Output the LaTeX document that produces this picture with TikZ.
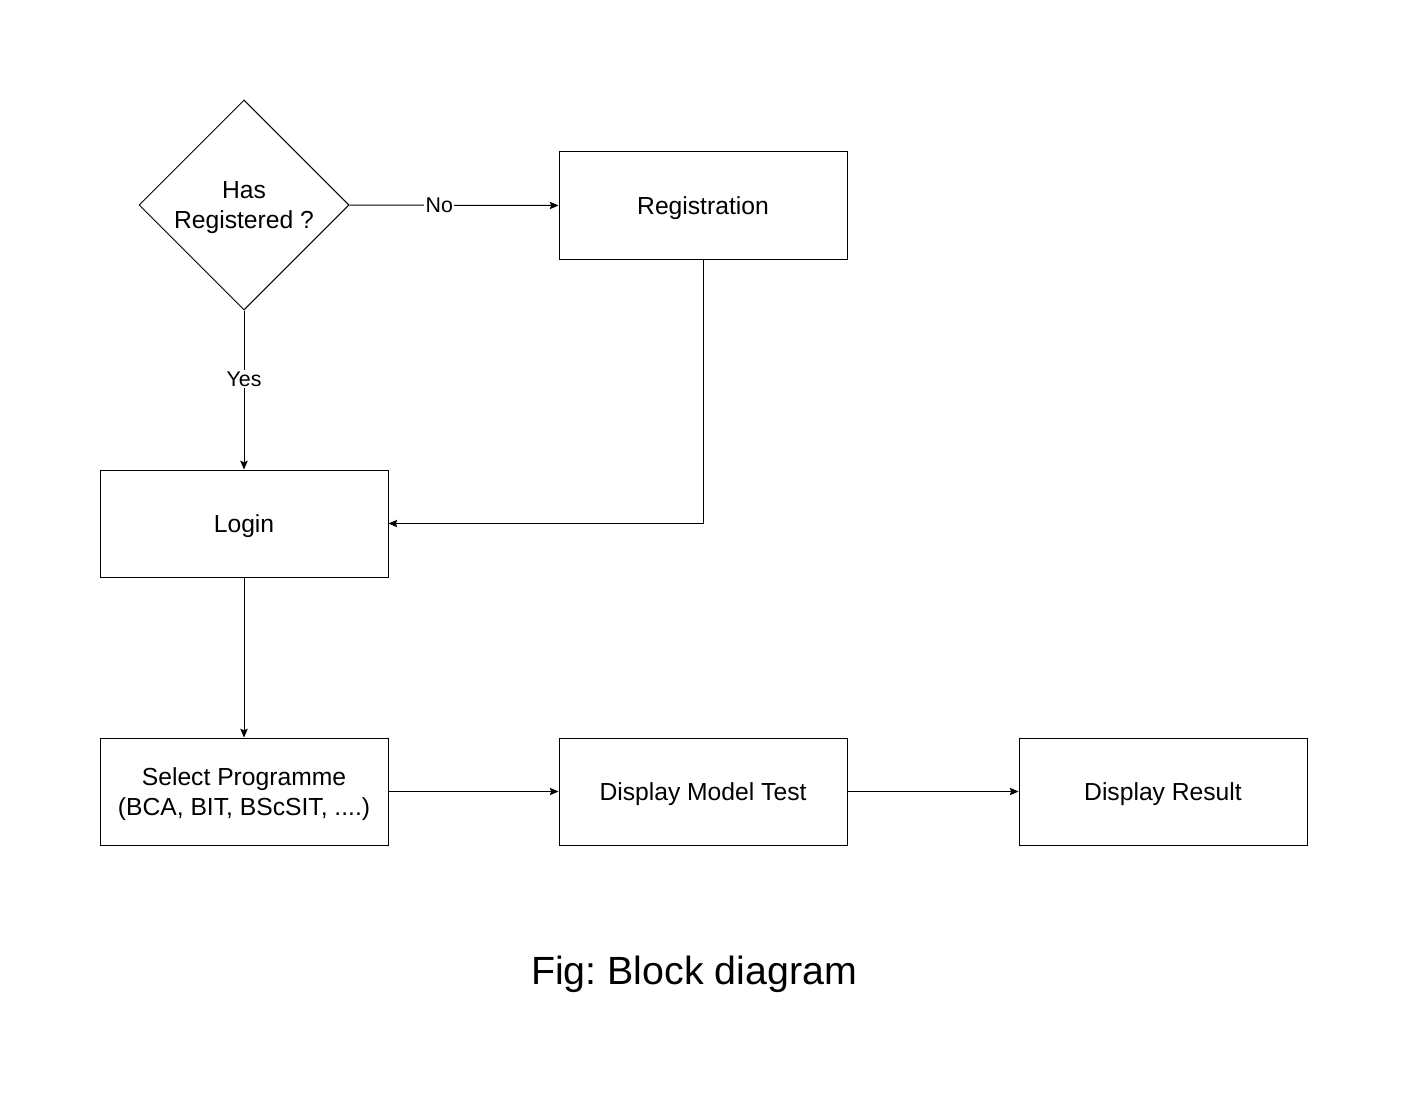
\documentclass[tikz,border=0pt]{standalone}
\usepackage{fontspec}
\setmainfont{Liberation Sans}
\usetikzlibrary{shapes.geometric,arrows.meta}
\frenchspacing
\begin{document}
\begin{tikzpicture}[x=0.75pt,y=-0.75pt,
  every node/.style={font=\fontsize{18.5}{22.5}\selectfont},
  box/.style={draw,line width=0.75pt,minimum width=216pt,minimum height=80.25pt,inner sep=0pt,align=center,text depth=-1pt},
  dec/.style={draw,diamond,line width=0.75pt,minimum width=157.5pt,minimum height=157.5pt,inner sep=0pt,align=center,text depth=-1pt},
  conn/.style={line width=0.75pt,-{Stealth[length=6.5pt,width=5.5pt,inset=1pt]}},
  lbl/.style={fill=white,inner sep=1pt,font=\fontsize{16}{19}\selectfont}]
\useasboundingbox (0,0) rectangle (1408,1102);
\fill[white] (0,0) rectangle (1408,1102);
\node[dec] (reg?) at (244,205) {Has\\Registered ?};
\node[box] (reg) at (703,205.5) {Registration};
\node[box] (login) at (244,523.5) {Login};
\node[box] (sel) at (244,791.5) {Select Programme\\(BCA, BIT, BScSIT, ....)};
\node[box] (dmt) at (703,791.5) {Display Model Test};
\node[box] (dres) at (1163,791.5) {Display Result};
\node[font=\fontsize{29.5}{34}\selectfont] (cap) at (694,974) {Fig: Block diagram};
\draw[conn] (reg?.east) -- node[lbl,pos=0.43] {No} (reg.west);
\draw[conn] (reg?.south) -- node[lbl,pos=0.43] {Yes} (login.north);
\draw[conn] (reg.south) |- (login.east);
\draw[conn] (login.south) -- (sel.north);
\draw[conn] (sel.east) -- (dmt.west);
\draw[conn] (dmt.east) -- (dres.west);
\end{tikzpicture}
\end{document}
